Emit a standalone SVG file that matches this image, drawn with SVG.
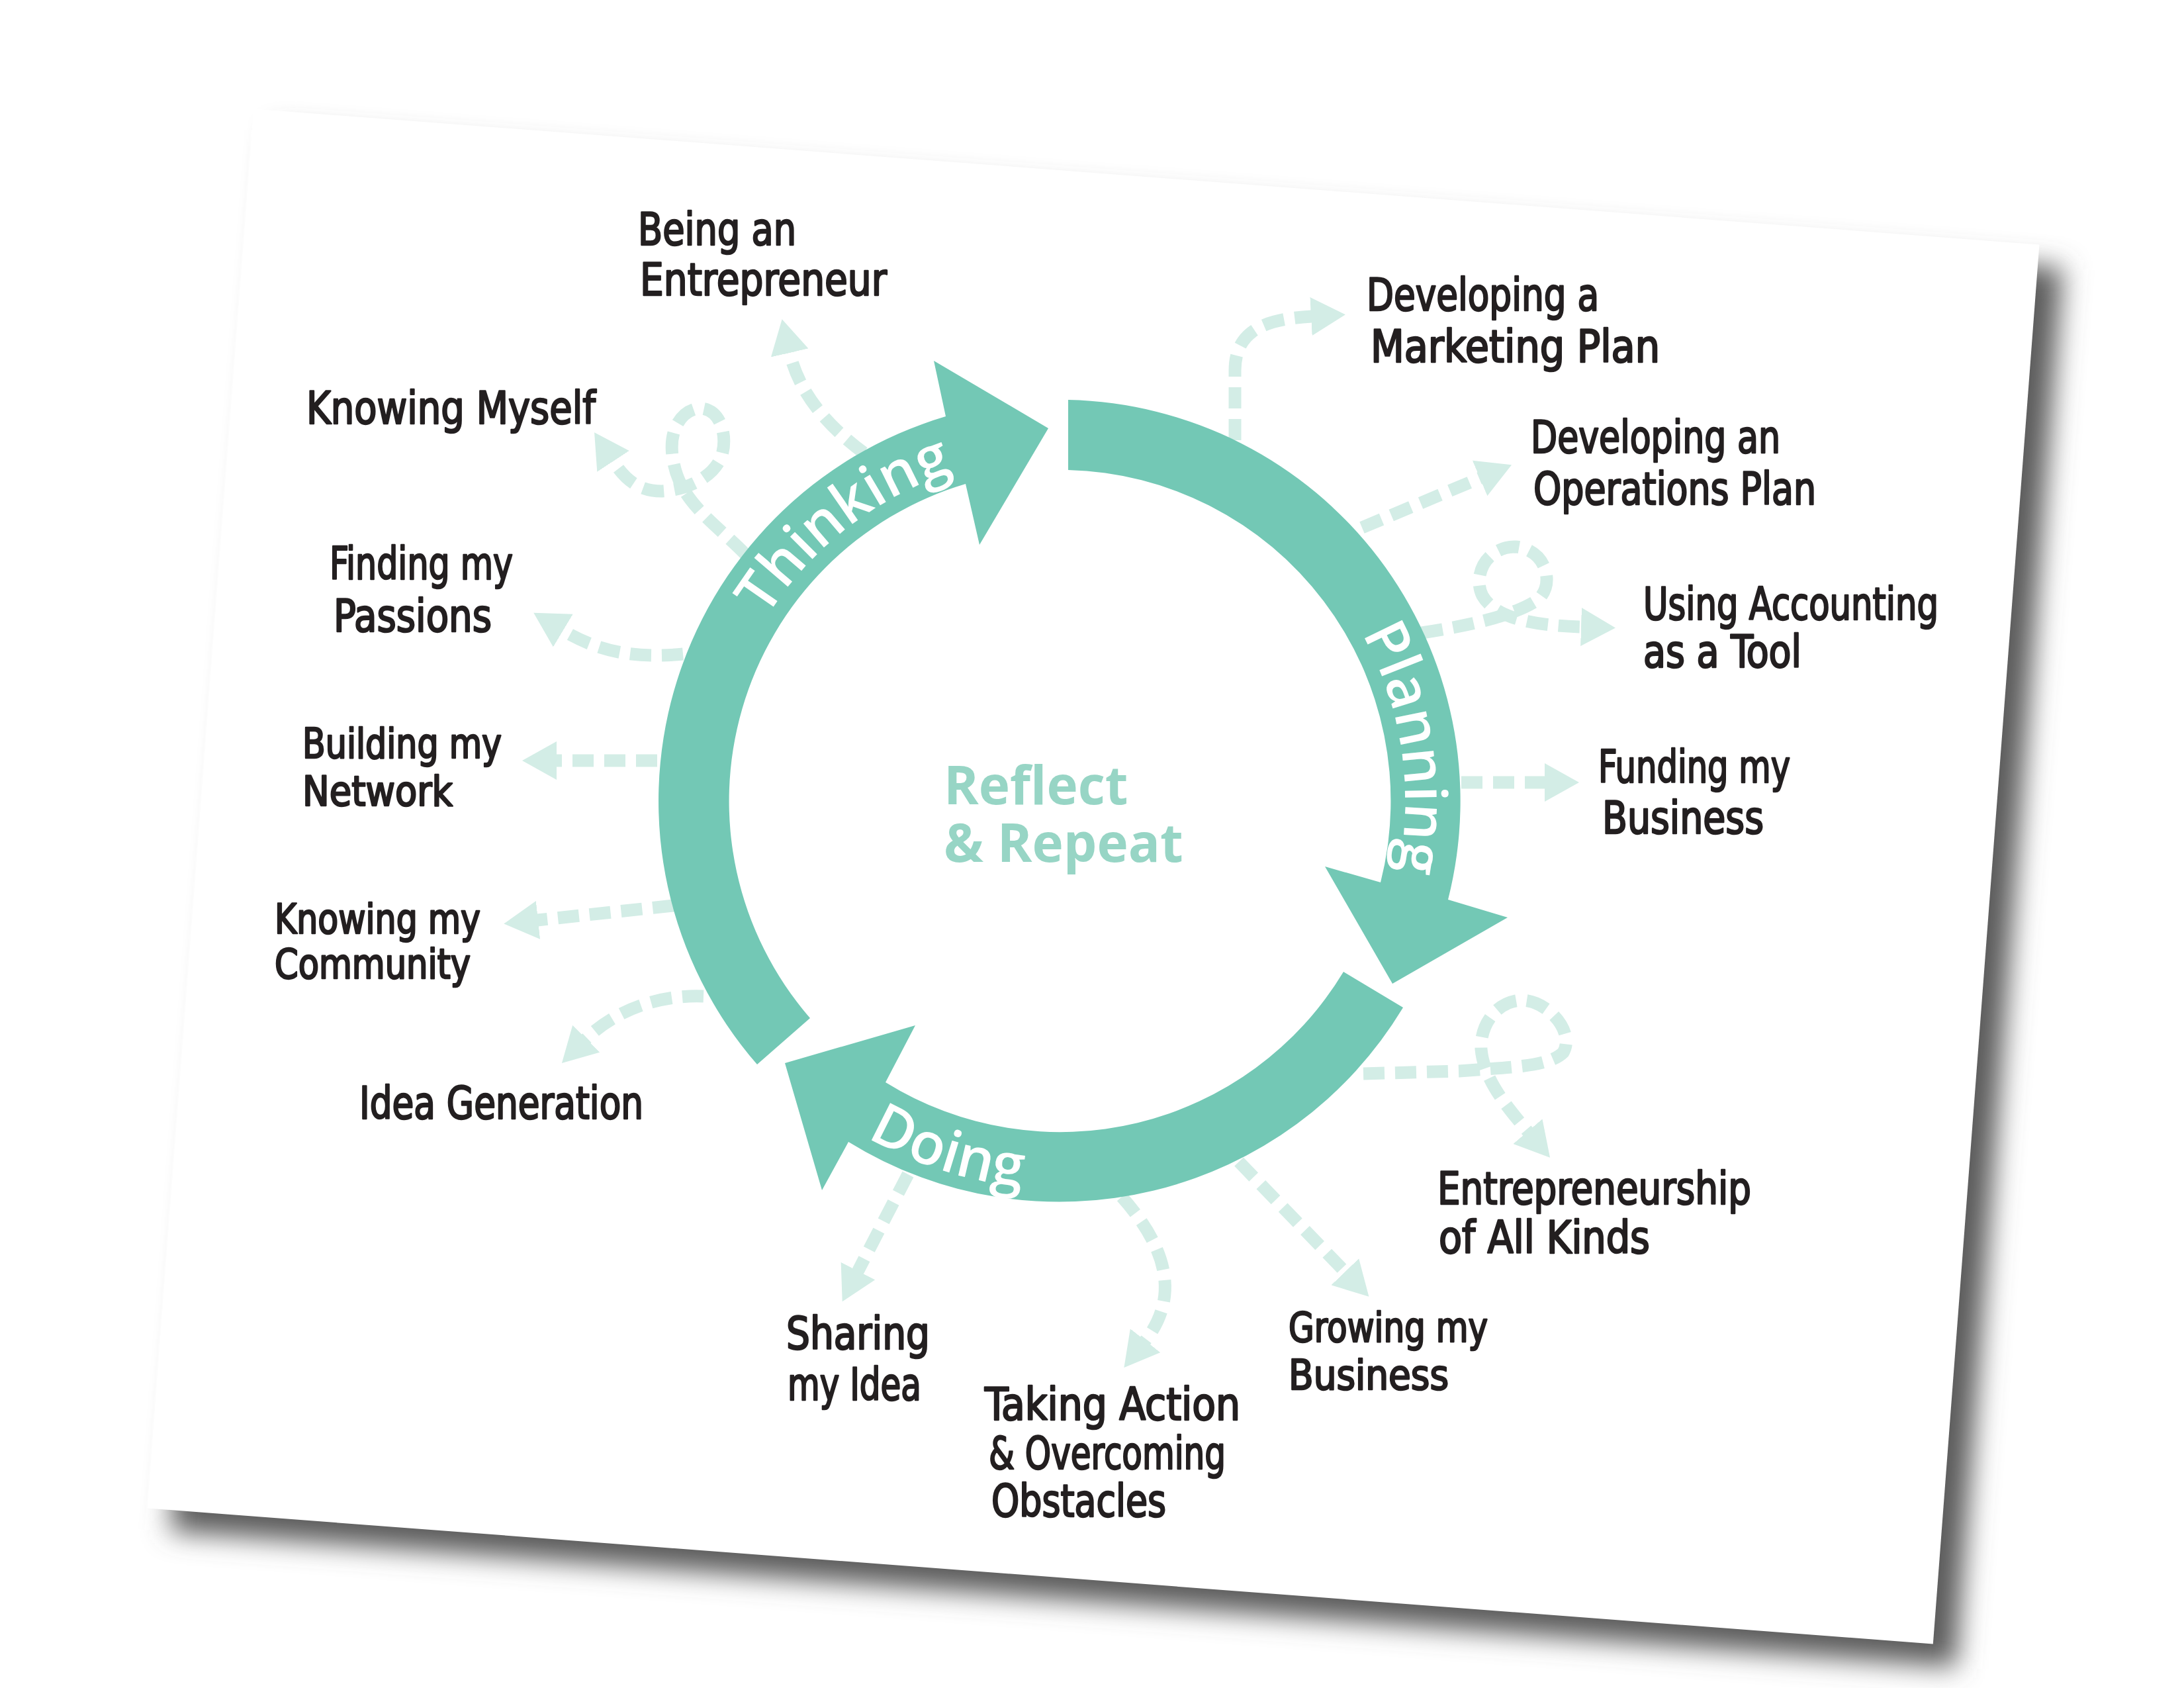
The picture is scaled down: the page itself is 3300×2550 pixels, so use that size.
<svg xmlns="http://www.w3.org/2000/svg" width="3300" height="2550" viewBox="0 0 3300 2550">
<defs>
<style>
.ring{fill:#73c8b5}
.arcl{font-family:"Open Sans","Noto Sans",sans-serif;font-weight:600;font-size:88px;fill:#ffffff}
.ctr{font-family:"Open Sans","Noto Sans",sans-serif;font-weight:700;font-size:80px;fill:#97d5c5}
.lbl{font-family:"Liberation Sans Narrow","DejaVu Sans Condensed","Liberation Sans",sans-serif;font-size:68px;fill:#231f20;stroke:#231f20;stroke-width:2.5;stroke-linejoin:round}
.sm{font-size:62px}
.conn{fill:none;stroke:#d3ede6;stroke-width:19;stroke-dasharray:32 16;marker-end:url(#ah)}
</style>
<marker id="ah" markerUnits="userSpaceOnUse" markerWidth="52" markerHeight="58" viewBox="0 0 52 58" refX="1" refY="29" orient="auto">
<path d="M0,0 L52,29 L0,58 Z" fill="#d3ede6"/>
</marker>
<filter id="blur" x="-10%" y="-10%" width="120%" height="120%">
<feGaussianBlur stdDeviation="20"/>
</filter>
<path id="tpThinking" d="M 1158 933 A 522 522 0 0 1 1583 688"/>
<path id="tpPlanning" d="M 2058 957 A 522 522 0 0 1 2053 1471"/>
<path id="tpDoing" d="M 1310 1718 A 585 585 0 0 0 1894 1717"/>
</defs>
<rect width="3300" height="2550" fill="#ffffff"/>
<g id="paper">
<rect x="-1353" y="-1060" width="2706" height="2120" fill="#5c5c5c" filter="url(#blur)" transform="translate(1687 1359) rotate(4.345)"/>
<rect x="-1353" y="-1060" width="2706" height="2120" fill="#ffffff" transform="translate(1652 1324) rotate(4.345)"/>
</g>
<g id="connectors">
<path class="conn" d="M 1305 684 Q 1212 615 1193 532"/>
<path class="conn" d="M 1126 837 C 1080 790, 1030 760, 1018 700 C 1005 640, 1040 615, 1060 617 C 1090 620, 1100 660, 1090 690 C 1078 720, 1040 740, 1000 742 C 965 742, 945 725, 926 696"/>
<path class="conn" d="M 1032 988 C 960 995, 905 985, 850 952"/>
<path class="conn" d="M 993 1149 L 840 1149"/>
<path class="conn" d="M 1018 1368 L 812 1390"/>
<path class="conn" d="M 1063 1505 C 990 1502, 925 1530, 885 1570"/>
<path class="conn" d="M 1372 1774 Q 1335 1845 1296 1921"/>
<path class="conn" d="M 1695 1808 C 1752 1872, 1790 1950, 1730 2026"/>
<path class="conn" d="M 1872 1755 L 2033 1922"/>
<path class="conn" d="M 2060 1622 L 2205 1618 C 2280 1612, 2340 1612, 2362 1590 C 2380 1560, 2340 1512, 2300 1511 C 2260 1512, 2236 1550, 2238 1585 C 2242 1630, 2275 1670, 2309 1710"/>
<path class="conn" d="M 2208 1182 L 2335 1182"/>
<path class="conn" d="M 2148 956 C 2220 945, 2290 930, 2325 905 C 2350 880, 2335 830, 2290 826 C 2245 826, 2225 870, 2240 900 C 2260 935, 2320 945, 2390 947"/>
<path class="conn" d="M 2058 797 L 2237 722"/>
<path class="conn" d="M 1866 665 L 1866 560 C 1866 500, 1910 482, 1982 478"/>
</g>
<g id="thinking">
<path class="ring" d="M 1144 1608 A 606 606 0 0 1 1429 629 L 1411 545 L 1584 647 L 1480 823 L 1459 731 A 500 500 0 0 0 1224 1538 Z"/>
<text class="arcl"><textPath href="#tpThinking">Thinking</textPath></text>
</g>
<g id="planning">
<path class="ring" d="M 1614 604 A 606 606 0 0 1 2188 1359 L 2278 1386 L 2104 1486 L 2002 1309 L 2086 1333 A 500 500 0 0 0 1614 710 Z"/>
<text class="arcl"><textPath href="#tpPlanning">Planning</textPath></text>
</g>
<g id="doing">
<path class="ring" d="M 2120 1522 A 606 606 0 0 1 1282 1725 L 1242 1798 L 1186 1606 L 1383 1549 L 1338 1635 A 500 500 0 0 0 2030 1468 Z"/>
<text class="arcl"><textPath href="#tpDoing">Doing</textPath></text>
</g>
<g id="center">
<text class="ctr"><tspan x="1426" y="1215">Reflect</tspan><tspan x="1426" y="1302">&amp; Repeat</tspan></text>
</g>
<g id="being-entrepreneur">
<text class="lbl" x="964" y="370" textLength="239" lengthAdjust="spacingAndGlyphs">Being an</text>
<text class="lbl" x="967" y="446" textLength="373" lengthAdjust="spacingAndGlyphs">Entrepreneur</text>
</g>
<g id="knowing-myself">
<text class="lbl" x="463" y="640" textLength="437" lengthAdjust="spacingAndGlyphs">Knowing Myself</text>
</g>
<g id="finding-passions">
<text class="lbl" x="498" y="875" textLength="277" lengthAdjust="spacingAndGlyphs">Finding my</text>
<text class="lbl" x="504" y="954" textLength="239" lengthAdjust="spacingAndGlyphs">Passions</text>
</g>
<g id="building-network">
<text class="lbl sm" x="457" y="1145" textLength="301" lengthAdjust="spacingAndGlyphs">Building my</text>
<text class="lbl sm" x="457" y="1217" textLength="227" lengthAdjust="spacingAndGlyphs">Network</text>
</g>
<g id="knowing-community">
<text class="lbl sm" x="415" y="1410" textLength="311" lengthAdjust="spacingAndGlyphs">Knowing my</text>
<text class="lbl sm" x="415" y="1478" textLength="296" lengthAdjust="spacingAndGlyphs">Community</text>
</g>
<g id="idea-generation">
<text class="lbl" x="543" y="1690" textLength="429" lengthAdjust="spacingAndGlyphs">Idea Generation</text>
</g>
<g id="sharing-idea">
<text class="lbl" x="1188" y="2038" textLength="217" lengthAdjust="spacingAndGlyphs">Sharing</text>
<text class="lbl" x="1190" y="2115" textLength="202" lengthAdjust="spacingAndGlyphs">my Idea</text>
</g>
<g id="taking-action">
<text class="lbl" x="1488" y="2145" textLength="386" lengthAdjust="spacingAndGlyphs">Taking Action</text>
<text class="lbl" x="1494" y="2219" textLength="358" lengthAdjust="spacingAndGlyphs">&amp; Overcoming</text>
<text class="lbl" x="1498" y="2291" textLength="264" lengthAdjust="spacingAndGlyphs">Obstacles</text>
</g>
<g id="growing-business">
<text class="lbl sm" x="1947" y="2027" textLength="301" lengthAdjust="spacingAndGlyphs">Growing my</text>
<text class="lbl sm" x="1947" y="2099" textLength="242" lengthAdjust="spacingAndGlyphs">Business</text>
</g>
<g id="entrepreneurship-kinds">
<text class="lbl" x="2172" y="1819" textLength="474" lengthAdjust="spacingAndGlyphs">Entrepreneurship</text>
<text class="lbl" x="2174" y="1893" textLength="319" lengthAdjust="spacingAndGlyphs">of All Kinds</text>
</g>
<g id="funding-business">
<text class="lbl" x="2415" y="1182" textLength="290" lengthAdjust="spacingAndGlyphs">Funding my</text>
<text class="lbl" x="2421" y="1259" textLength="244" lengthAdjust="spacingAndGlyphs">Business</text>
</g>
<g id="using-accounting">
<text class="lbl" x="2483" y="936" textLength="446" lengthAdjust="spacingAndGlyphs">Using Accounting</text>
<text class="lbl" x="2483" y="1008" textLength="239" lengthAdjust="spacingAndGlyphs">as a Tool</text>
</g>
<g id="operations-plan">
<text class="lbl" x="2313" y="684" textLength="377" lengthAdjust="spacingAndGlyphs">Developing an</text>
<text class="lbl" x="2317" y="762" textLength="427" lengthAdjust="spacingAndGlyphs">Operations Plan</text>
</g>
<g id="marketing-plan">
<text class="lbl" x="2065" y="469" textLength="351" lengthAdjust="spacingAndGlyphs">Developing a</text>
<text class="lbl" x="2071" y="547" textLength="437" lengthAdjust="spacingAndGlyphs">Marketing Plan</text>
</g>
</svg>
